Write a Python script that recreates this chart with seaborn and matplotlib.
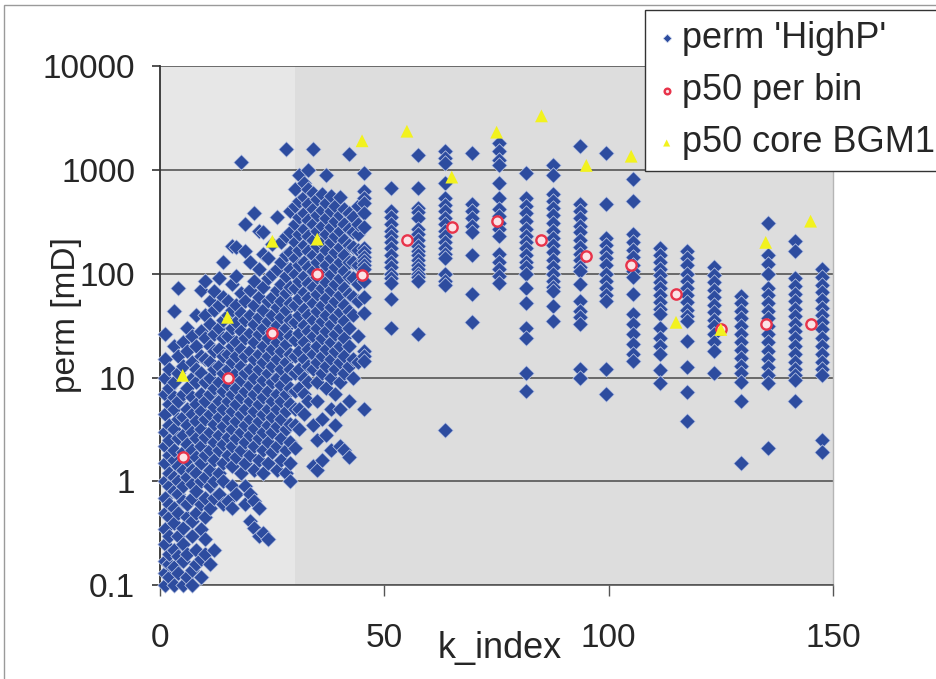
import numpy as np
import pandas as pd
import matplotlib
matplotlib.use("Agg")
import matplotlib.pyplot as plt
from matplotlib.ticker import NullLocator
from matplotlib.patches import Rectangle
import seaborn as sns

# === Data ===
# dense part: one column of perm values per k_index 1..44
left_k = list(range(1, 45))
left_perm = [
    [0.1, 0.13, 0.17, 0.25, 0.35, 0.5, 0.7, 1.0, 1.5, 2.2, 3.0, 4.5, 7, 10, 15, 26],
    [0.12, 0.16, 0.2, 0.3, 0.45, 0.6, 0.9, 1.2, 1.8, 2.5, 3.5, 5.5, 8, 12],
    [0.1, 0.15, 0.22, 0.4, 0.55, 0.8, 1.1, 1.6, 2.0, 3.2, 5, 6.5, 9, 20, 44],
    [0.13, 0.19, 0.3, 0.5, 0.75, 1.0, 1.4, 2.6, 4, 6, 11, 16, 72],
    [0.1, 0.17, 0.25, 0.36, 0.65, 0.9, 1.3, 1.9, 2.8, 4.2, 7, 13, 22],
    [0.12, 0.2, 0.45, 0.6, 1.1, 1.6, 2.3, 3.5, 5, 8, 18, 30],
    [0.1, 0.14, 0.3, 0.42, 0.7, 0.95, 1.3, 2.0, 3.0, 4.5, 6.5, 10, 14, 25],
    [0.16, 0.22, 0.5, 0.8, 1.2, 1.7, 2.6, 3.8, 5.5, 9, 12, 20, 40],
    [0.12, 0.18, 0.35, 0.6, 1.0, 1.5, 2.2, 3.2, 4.8, 7, 11, 16, 28, 70],
    [0.2, 0.28, 0.45, 0.7, 1.1, 1.8, 2.7, 4, 6, 9, 15, 24, 40, 85],
    [0.16, 0.55, 0.9, 1.3, 2.0, 3.0, 4.5, 7, 10, 14, 20, 33, 55],
    [0.22, 0.7, 1.0, 1.6, 2.4, 3.6, 5.2, 8, 12, 18, 26, 45, 68],
    [0.75, 1.2, 2.0, 2.8, 4.2, 6, 9, 13, 19, 30, 50, 90],
    [0.6, 1.0, 1.5, 2.3, 3.4, 5, 7.5, 11, 16, 24, 36, 60, 130],
    [0.65, 1.8, 2.7, 4, 6, 8.5, 12, 17, 25, 40, 55],
    [0.55, 0.9, 1.4, 2.2, 3.2, 4.8, 7, 10, 14, 20, 30, 45, 80, 185],
    [0.75, 1.7, 2.6, 3.8, 5.5, 8, 11, 16, 22, 34, 50, 95, 180],
    [1.2, 2.0, 3.0, 4.5, 6.5, 9.5, 13, 19, 28, 42, 65, 1200],
    [0.6, 0.9, 1.5, 2.4, 3.5, 5, 7.5, 11, 16, 24, 36, 55, 165, 300],
    [0.42, 0.75, 1.8, 2.8, 4, 6, 8.5, 12, 18, 27, 40, 70, 130],
    [0.36, 0.65, 1.3, 2.2, 3.3, 4.8, 7, 10, 15, 22, 33, 50, 85, 380],
    [0.3, 0.55, 1.6, 2.6, 3.8, 5.5, 8, 12, 17, 26, 38, 60, 110, 260],
    [0.32, 1.2, 2.0, 3.0, 4.5, 6.5, 9.5, 14, 20, 30, 45, 75, 155, 250],
    [0.28, 1.5, 2.4, 3.5, 5, 7.5, 11, 16, 24, 35, 55, 90, 140],
    [1.9, 3.0, 4.2, 6, 9, 13, 19, 28, 40, 60, 100, 195],
    [1.3, 2.2, 3.4, 5, 7, 10, 15, 22, 32, 48, 70, 110, 350],
    [1.6, 2.6, 4, 6, 8.5, 12, 18, 26, 38, 55, 80, 130, 200],
    [1.2, 2.0, 3.2, 4.8, 7, 10, 14, 21, 30, 45, 65, 95, 150, 230, 1600],
    [1.0, 1.5, 2.4, 3.6, 5.5, 8, 12, 17, 25, 36, 52, 75, 110, 160, 250, 400],
    [2.1, 3.5, 5, 7.5, 11, 16, 23, 34, 50, 72, 100, 140, 200, 300, 450, 650],
    [3.2, 5, 8, 12, 18, 27, 40, 58, 85, 120, 170, 240, 350, 500, 900],
    [4.5, 7, 10, 15, 22, 32, 46, 66, 95, 130, 190, 270, 380, 550, 750],
    [6, 9, 13, 19, 28, 40, 58, 82, 115, 165, 230, 330, 470, 650, 1000],
    [1.4, 3.5, 12, 17, 25, 36, 52, 75, 105, 150, 210, 300, 420, 600, 1600],
    [1.3, 2.5, 6, 9, 14, 20, 30, 44, 64, 92, 130, 185, 260, 370, 520],
    [1.6, 4, 11, 16, 24, 35, 50, 72, 100, 145, 200, 290, 410, 580],
    [2.8, 8, 13, 19, 28, 40, 58, 84, 120, 170, 240, 340, 480, 900],
    [2.0, 5, 10, 15, 22, 33, 48, 70, 100, 140, 200, 280, 400, 560],
    [3.5, 7, 12, 18, 26, 38, 55, 80, 115, 160, 230, 320, 450],
    [2.2, 5, 9, 14, 20, 30, 43, 62, 90, 130, 180, 260, 370, 550],
    [2.0, 11, 16, 24, 35, 50, 72, 105, 150, 210, 300, 420],
    [1.7, 6, 13, 20, 30, 44, 64, 92, 130, 190, 270, 380, 1420],
    [10, 15, 40, 60, 90, 130, 180, 250, 350],
    [14, 25, 55, 80, 120, 170, 240, 300, 450],
]

# sparse part: sampled every 6 k_index
right_k = [45.5, 51.5, 57.5, 63.5, 69.5, 75.5, 81.5, 87.5, 93.5,
           99.5, 105.5, 111.5, 117.5, 123.5, 129.5, 135.5, 141.5, 147.5]
right_perm = [
    [930, 620, 540, 480, 380, 280, 175, 160, 145, 132, 120, 110, 85, 60, 42, 18, 16, 14.5, 5],
    [670, 400, 350, 300, 260, 230, 200, 175, 150, 130, 115, 100, 90, 82, 57, 30],
    [1400, 660, 430, 390, 345, 270, 240, 210, 185, 165, 150, 135, 120, 110, 100, 92, 85, 26],
    [1500, 1300, 1150, 750, 540, 460, 400, 340, 300, 260, 230, 200, 175, 155, 140, 100, 85, 77, 3.1],
    [1450, 470, 400, 340, 290, 250, 150, 64, 34],
    [1800, 1500, 1250, 1100, 750, 540, 420, 360, 310, 270, 230, 155, 130, 110, 95, 82],
    [930, 530, 450, 380, 320, 270, 230, 200, 175, 150, 130, 115, 100, 73, 52, 30, 24, 11, 7.5],
    [1100, 900, 590, 500, 430, 370, 310, 260, 220, 190, 160, 135, 115, 100, 85, 75, 68, 49, 35],
    [1700, 470, 400, 340, 290, 250, 210, 180, 155, 135, 115, 107, 80, 55, 44, 38, 33, 12, 10],
    [1450, 470, 220, 190, 160, 140, 120, 100, 85, 72, 62, 55, 12, 7],
    [820, 500, 240, 200, 170, 145, 120, 105, 92, 64, 41, 33, 26, 21, 17, 14.5],
    [175, 150, 130, 112, 97, 83, 72, 62, 53, 46, 41, 30, 24, 20, 17, 11.7, 8.8],
    [165, 140, 120, 100, 85, 72, 62, 53, 45, 39, 35, 22.6, 12.5, 7.2, 3.8],
    [115, 98, 83, 70, 60, 50, 43, 36, 31, 26, 22, 18, 11],
    [61, 52, 44, 37, 31, 26, 22, 18.5, 15.5, 13, 11, 9, 6, 1.5],
    [310, 150, 125, 100, 73, 62, 52, 44, 37, 31, 26, 22, 18, 15, 12.5, 10.5, 8.8, 2.1],
    [205, 165, 90, 76, 64, 54, 46, 39, 33, 28, 24, 20, 17, 14, 12, 10.5, 9.4, 6],
    [110, 92, 78, 66, 56, 47, 40, 34, 29, 24, 20, 17, 14, 12, 10.5, 2.5, 1.9],
]

# bin medians
bin_k = [5, 15, 25, 35, 45, 55, 65, 75, 85, 95, 105, 115, 125, 135, 145]
p50_bin = [1.7, 10, 27, 100, 98, 210, 280, 320, 210, 148, 122, 64, 29, 33, 33]
p50_core = [10.5, 38, 205, 215, 1900, 2350, 850, 2300, 3300, 1100, 1350, 34, 29, 200, 320]

y_ticks = [0.1, 1, 10, 100, 1000, 10000]
y_tick_labels = ["0.1", "1", "10", "100", "1000", "10000"]
x_ticks = [0, 50, 100, 150]

# === Build tables ===
rows = []
for k, vals in zip(left_k + right_k, left_perm + right_perm):
    for v in vals:
        rows.append((k, v))
df_perm = pd.DataFrame(rows, columns=["k_index", "perm"])
df_bin = pd.DataFrame({"k_index": bin_k, "p50": p50_bin})
df_core = pd.DataFrame({"k_index": bin_k, "p50": p50_core})

# === Plot ===
sns.set_style("white")
plt.rcParams["font.family"] = ["Liberation Sans", "DejaVu Sans"]

fig = plt.figure(figsize=(9.37, 6.79), dpi=100)
ax = fig.add_axes([0.171, 0.138, 0.718, 0.765])
ax.set_facecolor("#DDDDDD")
ax.axvspan(0, 30, color="#E7E7E7", zorder=0, lw=0)

sns.scatterplot(data=df_perm, x="k_index", y="perm", ax=ax, marker="D", s=62,
                color="#2D4C9F", edgecolor="#C9D2EA", linewidth=0.5,
                label="perm 'HighP'", clip_on=False, zorder=3)
sns.scatterplot(data=df_bin, x="k_index", y="p50", ax=ax, marker="o", s=55,
                color="#FBE3E6", edgecolor="#E8334A", linewidth=1.7,
                label="p50 per bin", clip_on=False, zorder=4)
sns.scatterplot(data=df_core, x="k_index", y="p50", ax=ax, marker="^", s=85,
                color="#F2F21E", edgecolor="none", linewidth=0,
                label="p50 core BGM1", clip_on=False, zorder=4)

ax.set_yscale("log")
ax.set_ylim(0.1, 10000)
ax.set_xlim(0, 150)
ax.set_yticks(y_ticks)
ax.set_yticklabels(y_tick_labels)
ax.yaxis.set_minor_locator(NullLocator())
ax.set_xticks(x_ticks)

ax.grid(axis="y", which="major", color="#555555", lw=1.2)
ax.grid(axis="x", visible=False)
ax.set_axisbelow(True)

ax.spines["top"].set_visible(False)
ax.spines["left"].set_color("#333333")
ax.spines["left"].set_linewidth(1.3)
ax.spines["bottom"].set_color("#555555")
ax.spines["bottom"].set_linewidth(1.2)
ax.spines["right"].set_color("#B5B5B5")
ax.spines["right"].set_linewidth(1.0)

ax.tick_params(axis="y", which="major", direction="out", length=6, width=1.2,
               color="#333333", labelsize=24, pad=12, left=True)
ax.tick_params(axis="x", which="major", direction="out", length=8, width=1.0,
               color="#555555", labelsize=24, pad=19, bottom=True)

ax.set_xlabel("k_index", fontsize=26)
ax.set_ylabel("perm [mD]", fontsize=24)
ax.xaxis.set_label_coords(0.505, -0.088)
ax.yaxis.set_label_coords(-0.116, 0.52)

# outer chart frame (left and top edges visible)
fig.patches.append(Rectangle((4 / 937, -0.1), 2, 1.1 - 5 / 679, transform=fig.transFigure,
                             fill=False, edgecolor="#9A9A9A", lw=1.0))

leg = ax.legend(loc="upper left", bbox_to_anchor=(645 / 937, 1 - 10 / 679),
                bbox_transform=fig.transFigure, fontsize=26, frameon=True,
                fancybox=False, framealpha=1, edgecolor="#333333",
                borderpad=0.3, labelspacing=0.48, handletextpad=0.12,
                handlelength=0.6, markerscale=0.55, borderaxespad=0)
leg.get_frame().set_linewidth(1.0)
leg.set_zorder(10)

fig.savefig("out.png", dpi=100, facecolor="white")
